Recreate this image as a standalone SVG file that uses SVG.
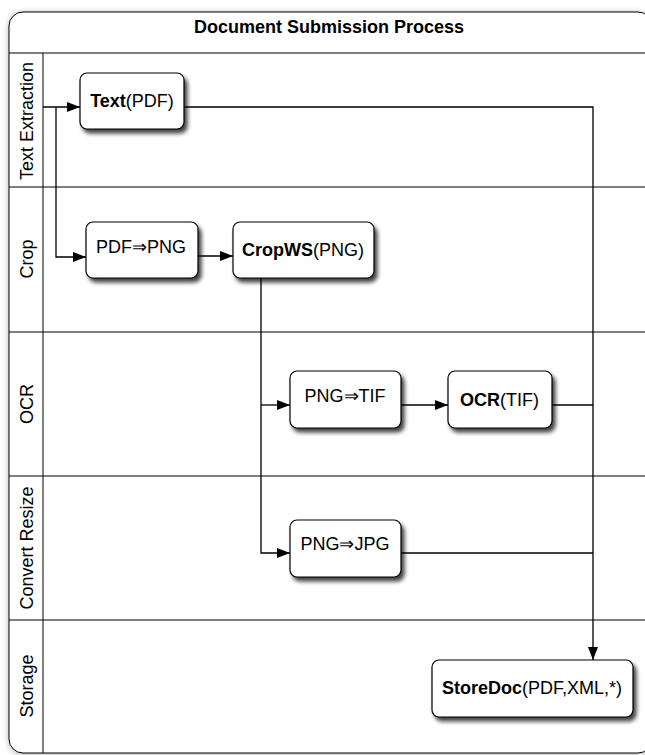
<svg xmlns="http://www.w3.org/2000/svg" width="645" height="755" viewBox="0 0 645 755">
<defs>
<filter id="fshadow" x="-20%" y="-20%" width="150%" height="160%">
<feGaussianBlur in="SourceAlpha" stdDeviation="2"/>
<feOffset dx="3" dy="4" result="b"/>
<feComponentTransfer><feFuncA type="linear" slope="0.75"/></feComponentTransfer>
<feMerge><feMergeNode/><feMergeNode in="SourceGraphic"/></feMerge>
</filter>
<filter id="frameshadow" x="-5%" y="-5%" width="110%" height="110%">
<feGaussianBlur in="SourceAlpha" stdDeviation="3"/>
<feOffset dx="0" dy="1" result="b"/>
<feComponentTransfer><feFuncA type="linear" slope="0.3"/></feComponentTransfer>
<feMerge><feMergeNode/><feMergeNode in="SourceGraphic"/></feMerge>
</filter>
<marker id="arr" viewBox="0 0 13 10" refX="13" refY="5" markerWidth="13" markerHeight="10" markerUnits="userSpaceOnUse" orient="auto">
<path d="M0,0 L13,5 L0,10 Z" fill="#000"/>
</marker>
</defs>
<style>
text{font-family:"Liberation Sans",Arial,sans-serif;font-size:18px;fill:#000}
.b{font-weight:bold}
.lane{fill:none;stroke:#000;stroke-width:1}
.node rect{fill:#fff;stroke:#000;stroke-width:1.2;filter:url(#fshadow)}
.conn path{fill:none;stroke:#000;stroke-width:1.3}
</style>
<rect x="0" y="0" width="645" height="755" fill="#fff"/>
<g id="pool">
<rect x="9" y="12" width="643" height="741" rx="14" ry="14" fill="#fff" stroke="#000" stroke-width="1" filter="url(#frameshadow)"/>
<text x="329" y="33" text-anchor="middle" class="b">Document Submission Process</text>
<path class="lane" d="M9,53 H652 M9,187 H652 M9,332 H652 M9,476 H652 M9,620 H652 M43,53 V753"/>
<text transform="translate(33,121) rotate(-90)" text-anchor="middle">Text Extraction</text>
<text transform="translate(33,259) rotate(-90)" text-anchor="middle">Crop</text>
<text transform="translate(33,404) rotate(-90)" text-anchor="middle">OCR</text>
<text transform="translate(33,548) rotate(-90)" text-anchor="middle">Convert Resize</text>
<text transform="translate(33,686) rotate(-90)" text-anchor="middle">Storage</text>
</g>
<g id="connectors" class="conn">
<path d="M43,107 H80" marker-end="url(#arr)"/>
<path d="M56,107 V257 H86" marker-end="url(#arr)"/>
<path d="M198,256 H233" marker-end="url(#arr)"/>
<path d="M184,107 H593 V660" marker-end="url(#arr)"/>
<path d="M261,278 V553 H290" marker-end="url(#arr)"/>
<path d="M261,405 H290" marker-end="url(#arr)"/>
<path d="M401,405 H448" marker-end="url(#arr)"/>
<path d="M552,405 H593"/>
<path d="M401,553 H593"/>
</g>
<g id="n-text" class="node">
<rect x="80" y="73" width="104" height="56" rx="7"/>
<text x="132" y="107" text-anchor="middle"><tspan class="b">Text</tspan>(PDF)</text>
</g>
<g id="n-pdf2png" class="node">
<rect x="86" y="222" width="112" height="56" rx="7"/>
<text x="141" y="253" text-anchor="middle">PDF⇒PNG</text>
</g>
<g id="n-cropws" class="node">
<rect x="233" y="222" width="141" height="56" rx="7"/>
<text x="303" y="256" text-anchor="middle"><tspan class="b">CropWS</tspan>(PNG)</text>
</g>
<g id="n-png2tif" class="node">
<rect x="290" y="371" width="111" height="57" rx="7"/>
<text x="345" y="402" text-anchor="middle">PNG⇒TIF</text>
</g>
<g id="n-ocr" class="node">
<rect x="448" y="371" width="104" height="57" rx="7"/>
<text x="499.5" y="406" text-anchor="middle"><tspan class="b">OCR</tspan>(TIF)</text>
</g>
<g id="n-png2jpg" class="node">
<rect x="290" y="520" width="111" height="57" rx="7"/>
<text x="345" y="550" text-anchor="middle">PNG⇒JPG</text>
</g>
<g id="n-storedoc" class="node">
<rect x="432" y="660" width="201" height="57" rx="7"/>
<text x="532" y="694" text-anchor="middle"><tspan class="b">StoreDoc</tspan>(PDF,XML,*)</text>
</g>
</svg>
